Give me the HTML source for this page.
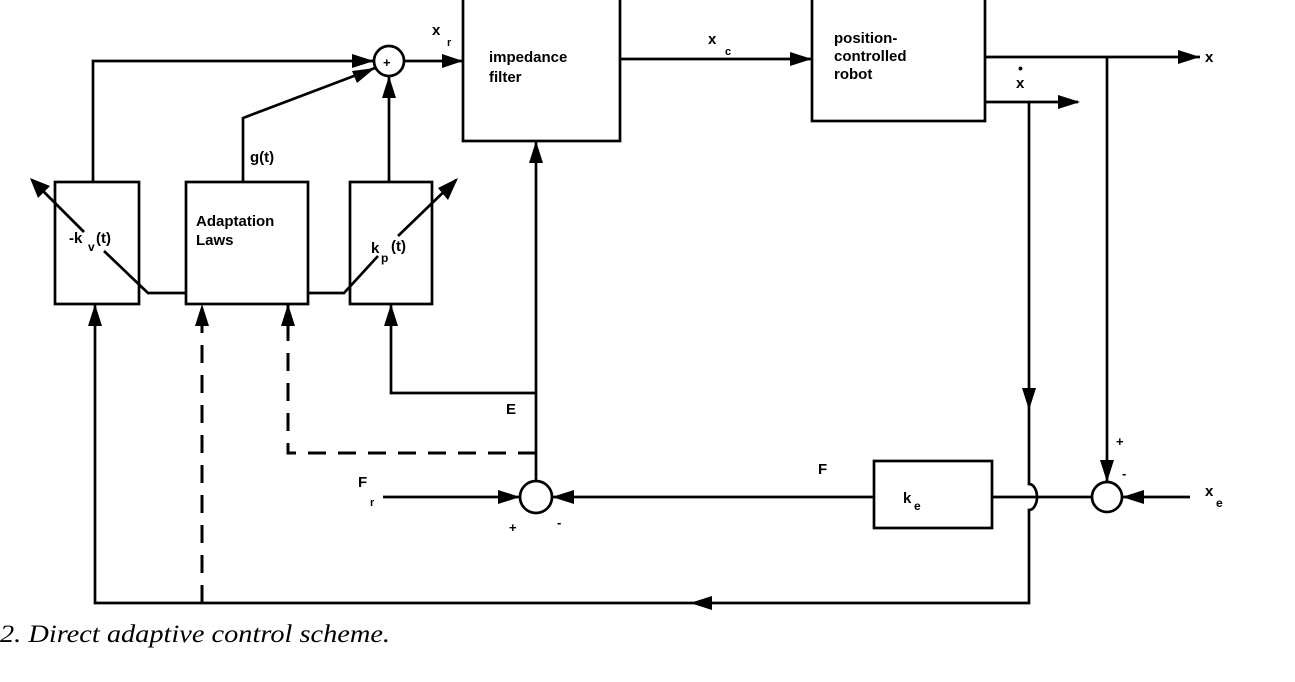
<!DOCTYPE html>
<html><head><meta charset="utf-8"><style>
html,body{margin:0;padding:0;background:#fff;width:1295px;height:682px;overflow:hidden}
svg{display:block}
text{font-family:"Liberation Sans",sans-serif;font-weight:bold;fill:#000}
</style></head><body>
<svg width="1295" height="682" viewBox="0 0 1295 682" xmlns="http://www.w3.org/2000/svg">
<g stroke="#000" stroke-width="2.7" fill="none">
<rect x="55" y="182" width="84" height="122"/>
<rect x="186" y="182" width="122" height="122"/>
<rect x="350" y="182" width="82" height="122"/>
<rect x="463" y="-2" width="157" height="143"/>
<rect x="812" y="-2" width="173" height="123"/>
<rect x="874" y="461" width="118" height="67"/>
<circle cx="389" cy="61" r="15"/>
<circle cx="536" cy="497" r="16"/>
<circle cx="1107" cy="497" r="15"/>
<polyline points="93,182 93,61 374,61"/>
<polyline points="243,182 243,118 375,68"/>
<line x1="389" y1="182" x2="389" y2="76"/>
<line x1="404" y1="61" x2="463" y2="61"/>
<line x1="620" y1="59" x2="812" y2="59"/>
<line x1="985" y1="57" x2="1200" y2="57"/>
<line x1="985" y1="102" x2="1078" y2="102"/>
<polyline points="186,293 148,293 104,251"/>
<line x1="84" y1="232" x2="32" y2="180"/>
<polyline points="308,293 344,293 378,256"/>
<line x1="398" y1="236" x2="456" y2="180"/>
<line x1="536" y1="481" x2="536" y2="141"/>
<polyline points="536,393 391,393 391,304"/>
<polyline points="383,497 520,497"/>
<line x1="874" y1="497" x2="552" y2="497"/>
<path d="M1029,102 L1029,484 A8,13 0 0 1 1029,510 L1029,603 L95,603 L95,304"/>
<line x1="992" y1="497" x2="1092" y2="497"/>
<line x1="1107" y1="57" x2="1107" y2="482"/>
<line x1="1190" y1="497" x2="1122" y2="497"/>
<g stroke-dasharray="18,12" stroke-width="3">
<polyline points="536,453 288,453 288,304"/>
<line x1="202" y1="603" x2="202" y2="304"/>
</g>
</g>
<g fill="#000">
<polygon points="374,61 352,54 352,68"/>
<polygon points="375,68 352,71 357,83" />
<polygon points="389,76 382,98 396,98"/>
<polygon points="463,61 442,54 442,68"/>
<polygon points="812,59 790,52 790,66"/>
<polygon points="1200,57 1178,50 1178,64"/>
<polygon points="1080,102 1058,95 1058,109"/>
<polygon points="30,178 38,198 50,186"/>
<polygon points="458,178 438,188 448,200"/>
<polygon points="536,141 529,163 543,163"/>
<polygon points="391,304 384,326 398,326"/>
<polygon points="288,304 281,326 295,326"/>
<polygon points="202,304 195,326 209,326"/>
<polygon points="95,304 88,326 102,326"/>
<polygon points="520,497 498,490 498,504"/>
<polygon points="552,497 574,490 574,504"/>
<polygon points="1122,497 1144,490 1144,504"/>
<polygon points="1107,482 1100,460 1114,460"/>
<polygon points="1029,410 1022,388 1036,388"/>
<polygon points="690,603 712,596 712,610"/>
</g>
<g font-size="15">
<text x="383" y="67" font-size="13">+</text>
<text x="489" y="62">impedance</text>
<text x="489" y="82">filter</text>
<text x="834" y="43">position-</text>
<text x="834" y="61">controlled</text>
<text x="834" y="79">robot</text>
<text x="196" y="226">Adaptation</text>
<text x="196" y="245">Laws</text>
<text x="69" y="243">-k</text><text x="88" y="251" font-size="12">v</text><text x="96" y="243">(t)</text>
<text x="371" y="253">k</text><text x="381" y="262" font-size="12">p</text><text x="391" y="251">(t)</text>
<text x="250" y="162">g(t)</text>
<text x="432" y="35">x</text><text x="447" y="46" font-size="11">r</text>
<text x="708" y="44">x</text><text x="725" y="55" font-size="11">c</text>
<text x="1205" y="62">x</text>
<text x="1016" y="88">x</text><text x="1018" y="73" font-size="14">•</text>
<text x="506" y="414">E</text>
<text x="358" y="487">F</text><text x="370" y="506" font-size="11">r</text>
<text x="818" y="474">F</text>
<text x="903" y="503">k</text><text x="914" y="510" font-size="12">e</text>
<text x="1205" y="496">x</text><text x="1216" y="507" font-size="12">e</text>
<text x="509" y="532" font-size="13">+</text>
<text x="557" y="527" font-size="13">-</text>
<text x="1116" y="446" font-size="13">+</text>
<text x="1122" y="478" font-size="13">-</text>
</g>
<text x="0" y="642" textLength="390" lengthAdjust="spacingAndGlyphs" style="font-family:'Liberation Serif',serif;font-style:italic;font-weight:normal;font-size:25px">2. Direct adaptive control scheme.</text>
</svg>
</body></html>
